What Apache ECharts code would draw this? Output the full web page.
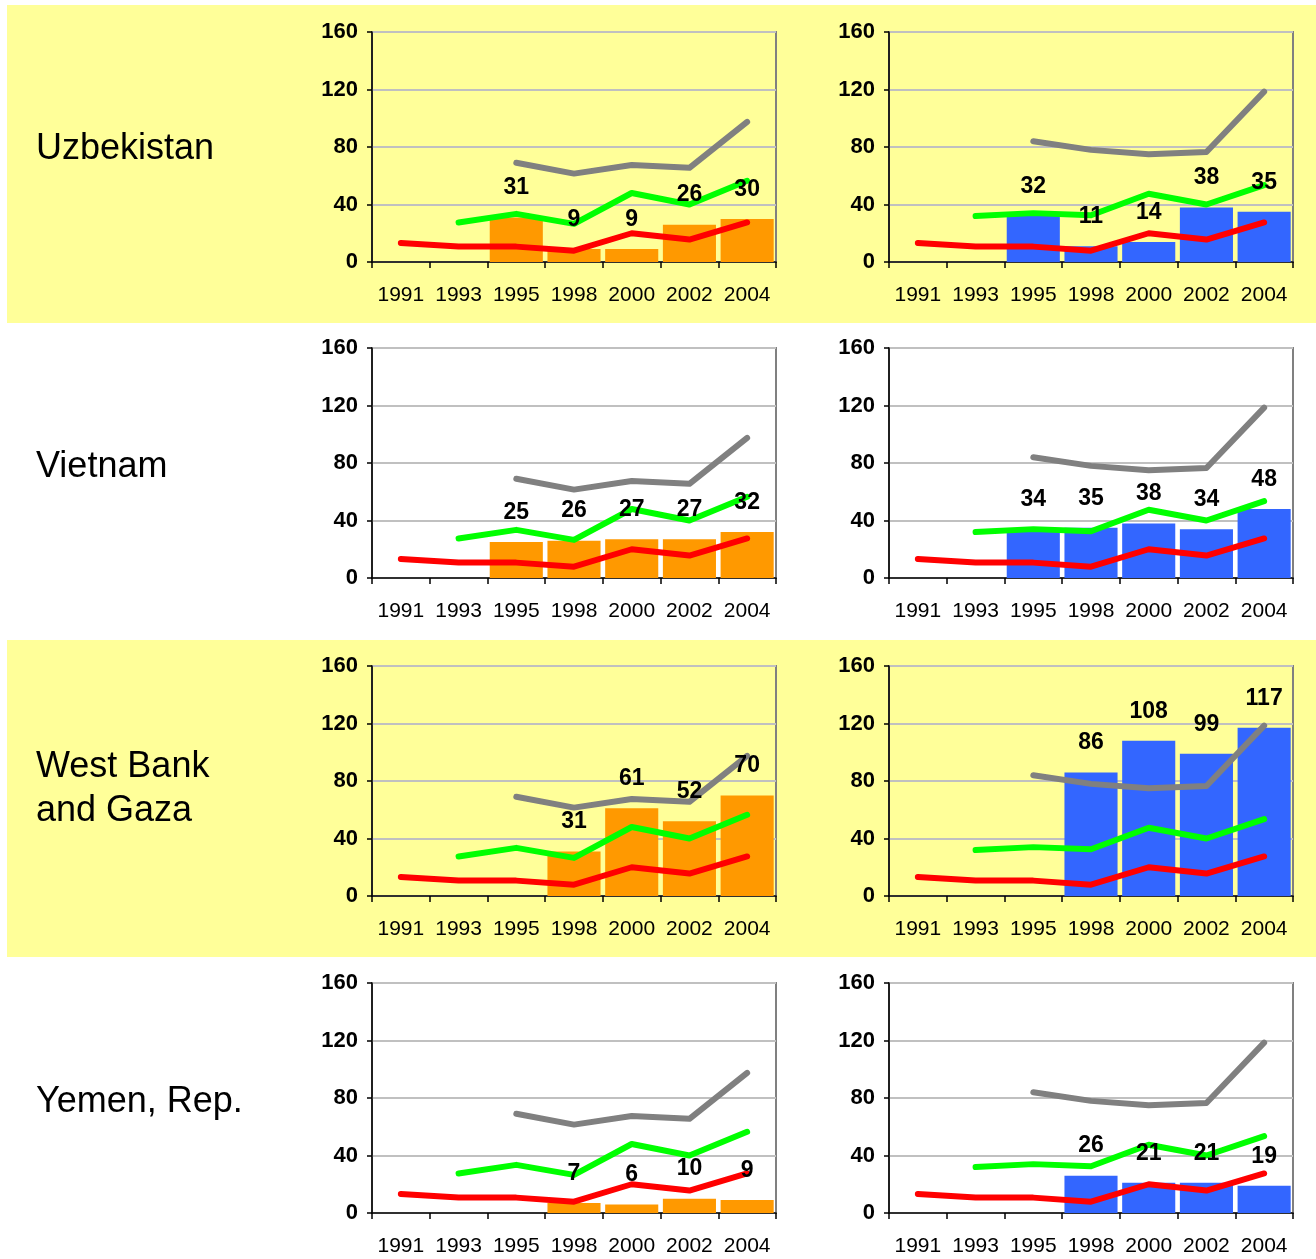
<!DOCTYPE html>
<html>
<head>
<meta charset="utf-8">
<script src="https://cdn.jsdelivr.net/npm/echarts@6/dist/echarts.min.js"></script>
<style>
  html, body { margin: 0; padding: 0; background: #ffffff; }
  #chart { width: 1316px; height: 1259px; }
</style>
</head>
<body>
<div id="chart"></div>
<script>
// Survey years on the horizontal axis
const years = ['1991', '1993', '1995', '1998', '2000', '2002', '2004'];
const yTicks = [0, 40, 80, 120, 160];

// Country rows, top to bottom
const countries = ['Uzbekistan', 'Vietnam', 'West Bank\nand Gaza', 'Yemen, Rep.'];

// Country bars, left panel (orange)
const uzbekistanLeft = [null, null, 31, 9, 9, 26, 30];
const vietnamLeft    = [null, null, 25, 26, 27, 27, 32];
const wbgLeft        = [null, null, null, 31, 61, 52, 70];
const yemenLeft      = [null, null, null, 7, 6, 10, 9];

// Country bars, right panel (blue)
const uzbekistanRight = [null, null, 32, 11, 14, 38, 35];
const vietnamRight    = [null, null, 34, 35, 38, 34, 48];
const wbgRight        = [null, null, null, 86, 108, 99, 117];
const yemenRight      = [null, null, null, 26, 21, 21, 19];

// Reference lines shared by every panel in a column
const redRef        = [13.2, 10.7, 10.7, 7.9, 20, 15.6, 27.5];
const greenRefLeft  = [null, 27.5, 33.5, 26.5, 48, 40, 56.5];
const grayRefLeft   = [null, null, 69, 61.5, 67.5, 65.5, 97.5];
const greenRefRight = [null, 32, 34, 32.5, 47.5, 40, 53.5];
const grayRefRight  = [null, null, 84, 78, 75, 76.5, 118.5];

const leftBars  = [uzbekistanLeft, vietnamLeft, wbgLeft, yemenLeft];
const rightBars = [uzbekistanRight, vietnamRight, wbgRight, yemenRight];

const ORANGE = '#FF9900';
const BLUE = '#3366FF';
const YELLOW = '#FFFF99';
const AXIS_FONT = '"Liberation Sans Narrow", "Liberation Sans", Arial, sans-serif';

const rowTops = [32, 348, 666, 983];
const colLefts = [372, 889];
const plotW = 404;
const plotH = 230;
const countryY = [149, 467, 789, 1102];

const grids = [], xAxes = [], yAxes = [], series = [];

rowTops.forEach((top, r) => {
  colLefts.forEach((left, c) => {
    const idx = grids.length;
    grids.push({
      left: left, top: top, width: plotW, height: plotH,
      show: true, borderColor: '#808080', borderWidth: 2,
      backgroundColor: 'transparent'
    });
    xAxes.push({
      gridIndex: idx, type: 'category', data: years, boundaryGap: true,
      axisLine: { lineStyle: { color: '#000', width: 1.5 } },
      axisTick: { show: true, length: 6, lineStyle: { color: '#000', width: 1.5 } },
      axisLabel: {
        interval: 0, hideOverlap: false, color: '#000', fontSize: 21,
        fontFamily: AXIS_FONT, margin: 23
      },
      splitLine: { show: false }
    });
    yAxes.push({
      gridIndex: idx, type: 'value', min: yTicks[0], max: yTicks[yTicks.length - 1], interval: 40,
      axisLine: { show: true, lineStyle: { color: '#000', width: 1.5 } },
      axisTick: { show: true, length: 5, lineStyle: { color: '#000', width: 1.5 } },
      axisLabel: { color: '#000', fontSize: 22, fontWeight: 'bold', fontFamily: AXIS_FONT, margin: 14 },
      splitLine: { show: true, lineStyle: { color: '#C0C0C0', width: 2 } }
    });

    const bars = c === 0 ? leftBars[r] : rightBars[r];
    const barColor = c === 0 ? ORANGE : BLUE;
    const green = c === 0 ? greenRefLeft : greenRefRight;
    const gray = c === 0 ? grayRefLeft : grayRefRight;

    series.push({
      type: 'bar', xAxisIndex: idx, yAxisIndex: idx, data: bars,
      barCategoryGap: '8%', barGap: '-100%', z: 2,
      itemStyle: { color: barColor }
    });
    const lineBase = {
      type: 'line', xAxisIndex: idx, yAxisIndex: idx, symbol: 'none',
      smooth: false, z: 3
    };
    series.push(Object.assign({}, lineBase, { data: redRef, lineStyle: { color: '#FF0000', width: 6, cap: 'round', join: 'round' } }));
    series.push(Object.assign({}, lineBase, { data: green, lineStyle: { color: '#00FF00', width: 6, cap: 'round', join: 'round' } }));
    series.push(Object.assign({}, lineBase, { data: gray, lineStyle: { color: '#808080', width: 6, cap: 'round', join: 'round' } }));
    // value labels sit above the lines, so they ride on a transparent copy of the bars
    series.push({
      type: 'bar', xAxisIndex: idx, yAxisIndex: idx, data: bars,
      barCategoryGap: '8%', barGap: '-100%', z: 5, silent: true,
      itemStyle: { color: 'rgba(0,0,0,0)' },
      label: {
        show: true, position: 'top', distance: 18, color: '#000',
        fontSize: 23, fontWeight: 'bold', fontFamily: AXIS_FONT
      }
    });
  });
});

const graphic = [
  { type: 'rect', z: -10, silent: true, shape: { x: 7, y: 5, width: 1309, height: 318 }, style: { fill: YELLOW } },
  { type: 'rect', z: -10, silent: true, shape: { x: 7, y: 640, width: 1309, height: 317 }, style: { fill: YELLOW } }
];
countries.forEach((name, i) => {
  graphic.push({
    type: 'text', z: 10, silent: true, x: 36, y: countryY[i],
    style: {
      text: name, fill: '#000', fontSize: 36, lineHeight: 44,
      fontFamily: '"Liberation Sans", Arial, sans-serif',
      align: 'left', verticalAlign: 'middle'
    }
  });
});

const chart = echarts.init(document.getElementById('chart'), null, { renderer: 'canvas' });
chart.setOption({
  animation: false,
  backgroundColor: '#ffffff',
  graphic: graphic,
  grid: grids,
  xAxis: xAxes,
  yAxis: yAxes,
  series: series
});
</script>
</body>
</html>
